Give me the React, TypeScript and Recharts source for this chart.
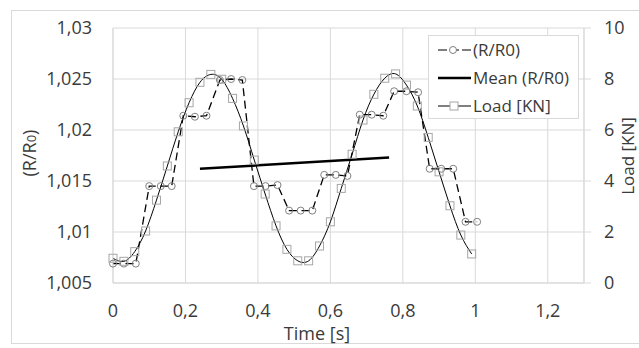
import React from "react";
import { ComposedChart, Line, XAxis, YAxis, CartesianGrid } from "recharts";

const R_TIME = [
  0, 0.03, 0.063, 0.1, 0.132, 0.162, 0.194, 0.226, 0.258, 0.295, 0.326, 0.357,
  0.389, 0.421, 0.454, 0.486, 0.518, 0.55, 0.583, 0.615, 0.647, 0.681, 0.714,
  0.746, 0.776, 0.81, 0.842, 0.874, 0.906, 0.939, 0.973, 1.005,
];
const R_VALUES = [
  1.0069, 1.0069, 1.0069, 1.0145, 1.0145, 1.0145, 1.0214, 1.0213, 1.0214,
  1.0249, 1.025, 1.0249, 1.0145, 1.0145, 1.0146, 1.0121, 1.0121, 1.0121,
  1.0156, 1.0156, 1.0155, 1.0215, 1.0215, 1.0214, 1.0238, 1.0238, 1.0237,
  1.0162, 1.0162, 1.0162, 1.011, 1.011,
];

// load samples [KN]
const LOAD_TIME = [
  0, 0.03, 0.06, 0.09, 0.12, 0.15, 0.18, 0.21, 0.24, 0.27, 0.3, 0.33, 0.36,
  0.39, 0.42, 0.45, 0.48, 0.51, 0.54, 0.57, 0.6, 0.63, 0.66, 0.69, 0.72, 0.75,
  0.78, 0.81, 0.84, 0.87, 0.9, 0.93, 0.96, 0.99,
];
const LOAD_VALUES = [
  0.97, 0.85, 1.23, 2.04, 3.25, 4.59, 5.93, 7.07, 7.87, 8.18, 7.99, 7.24, 6.16,
  4.82, 3.49, 2.24, 1.32, 0.87, 0.87, 1.45, 2.4, 3.71, 5.05, 6.39, 7.4, 8.03,
  8.2, 7.76, 6.94, 5.71, 4.36, 3.03, 1.88, 1.14,
];

// mean (R/R0) trend
const MEAN_TIME = [0.24, 0.762];
const MEAN_VALUES = [1.0162, 1.0173];

const X_TICKS = [0, 0.2, 0.4, 0.6, 0.8, 1, 1.2];
const LEFT_TICKS = [1.005, 1.01, 1.015, 1.02, 1.025, 1.03];
const RIGHT_TICKS = [0, 2, 4, 6, 8, 10];

const rData = R_TIME.map((t, i) => ({ t, r: R_VALUES[i] }));
const loadData = LOAD_TIME.map((t, i) => ({ t, load: LOAD_VALUES[i] }));
const meanData = MEAN_TIME.map((t, i) => ({ t, mean: MEAN_VALUES[i] }));

const FONT = "'Open Sans', sans-serif";
const TEXT = "#3a3a3a";
const GRID = "#d9d9d9";

const fmt = (v: number) => String(v).replace(".", ",");

const tickStyle = { fontSize: 18, fill: TEXT, fontFamily: FONT };

const xTitle = () => (
  <text x={317} y={340} textAnchor="middle" fontSize={18} fill={TEXT} fontFamily={FONT}>
    Time [s]
  </text>
);

const leftTitle = () => (
  <text
    x={36}
    y={153}
    textAnchor="middle"
    fontSize={18}
    fill={TEXT}
    fontFamily={FONT}
    transform="rotate(-90 36 153)"
  >
    (R/R<tspan fontSize={13}>0</tspan>)
  </text>
);

const rightTitle = () => (
  <text
    x={634}
    y={156}
    textAnchor="middle"
    fontSize={17}
    fill={TEXT}
    fontFamily={FONT}
    transform="rotate(-90 634 156)"
  >
    Load [KN]
  </text>
);

const CircleDot = (props: any) => {
  const { cx, cy, index } = props;
  return <circle key={`c-${index}`} cx={cx} cy={cy} r={3.5} fill="none" stroke="#808080" strokeWidth={1} />;
};

const SquareDot = (props: any) => {
  const { cx, cy, index } = props;
  return (
    <rect key={`s-${index}`} x={cx - 4} y={cy - 4} width={8} height={8} fill="none" stroke="#a6a6a6" strokeWidth={1} />
  );
};

function LegendBox() {
  const row = { display: "flex", alignItems: "center", height: 28 } as const;
  const label = { fontSize: 17, color: TEXT, fontFamily: FONT, marginLeft: 2, lineHeight: "28px" };
  return (
    <div
      style={{
        position: "absolute",
        left: 428,
        top: 35,
        width: 151,
        height: 84,
        boxSizing: "border-box",
        border: `1px solid ${GRID}`,
        background: "#fff",
        paddingLeft: 9,
      }}
    >
      <div style={row}>
        <svg width={33} height={10}>
          <line x1={0} x2={33} y1={5} y2={5} stroke="#000" strokeWidth={1.2} strokeDasharray="9 3" />
          <circle cx={15} cy={5} r={3.5} fill="#fff" stroke="#808080" />
        </svg>
        <span style={label}>(R/R0)</span>
      </div>
      <div style={row}>
        <svg width={33} height={10}>
          <line x1={0} x2={33} y1={5} y2={5} stroke="#000" strokeWidth={2.5} />
        </svg>
        <span style={label}>Mean (R/R0)</span>
      </div>
      <div style={row}>
        <svg width={33} height={10}>
          <line x1={0} x2={33} y1={5} y2={5} stroke="#000" strokeWidth={1} />
          <rect x={12} y={1} width={8} height={8} fill="#fff" stroke="#a6a6a6" />
        </svg>
        <span style={label}>Load [KN]</span>
      </div>
    </div>
  );
}

export default function App() {
  return (
    <div style={{ position: "relative", width: 639, height: 348, overflow: "hidden", background: "#fff" }}>
      <style>{"body{margin:0;}"}</style>
      <div
        style={{
          position: "absolute",
          left: 11,
          top: 10,
          width: 700,
          height: 332,
          borderTop: `1px solid ${GRID}`,
          borderLeft: `1px solid ${GRID}`,
          borderBottom: `1px solid ${GRID}`,
        }}
      />
      <ComposedChart
        width={639}
        height={348}
        margin={{ top: 28, right: 10, bottom: 20, left: 13 }}
        style={{ fontFamily: FONT, position: "absolute", left: 0, top: 0 }}
      >
        <CartesianGrid stroke={GRID} yAxisId="left" />
        <XAxis
          type="number"
          dataKey="t"
          domain={[0, 1.3]}
          ticks={X_TICKS}
          tickFormatter={fmt}
          axisLine={{ stroke: GRID }}
          tickLine={false}
          tickMargin={15}
          height={45}
          tick={tickStyle}
          label={xTitle}
        />
        <YAxis
          yAxisId="left"
          type="number"
          domain={[1.005, 1.03]}
          ticks={LEFT_TICKS}
          tickFormatter={fmt}
          axisLine={{ stroke: GRID }}
          tickLine={false}
          tickMargin={15}
          width={100}
          tick={tickStyle}
          label={leftTitle}
        />
        <YAxis
          yAxisId="right"
          orientation="right"
          type="number"
          domain={[0, 10]}
          ticks={RIGHT_TICKS}
          axisLine={{ stroke: GRID }}
          tickLine={{ stroke: GRID }}
          tickSize={7}
          tickMargin={13}
          width={45}
          tick={tickStyle}
          label={rightTitle}
        />
        <Line
          yAxisId="left"
          data={rData}
          dataKey="r"
          type="linear"
          stroke="#000"
          strokeWidth={1.3}
          strokeDasharray="8 4.5"
          dot={CircleDot}
          isAnimationActive={false}
        />
        <Line
          yAxisId="right"
          data={loadData}
          dataKey="load"
          type="natural"
          stroke="#000"
          strokeWidth={1}
          dot={SquareDot}
          isAnimationActive={false}
        />
        <Line
          yAxisId="left"
          data={meanData}
          dataKey="mean"
          type="linear"
          stroke="#000"
          strokeWidth={2.5}
          dot={false}
          isAnimationActive={false}
        />
      </ComposedChart>
      <LegendBox />
    </div>
  );
}
